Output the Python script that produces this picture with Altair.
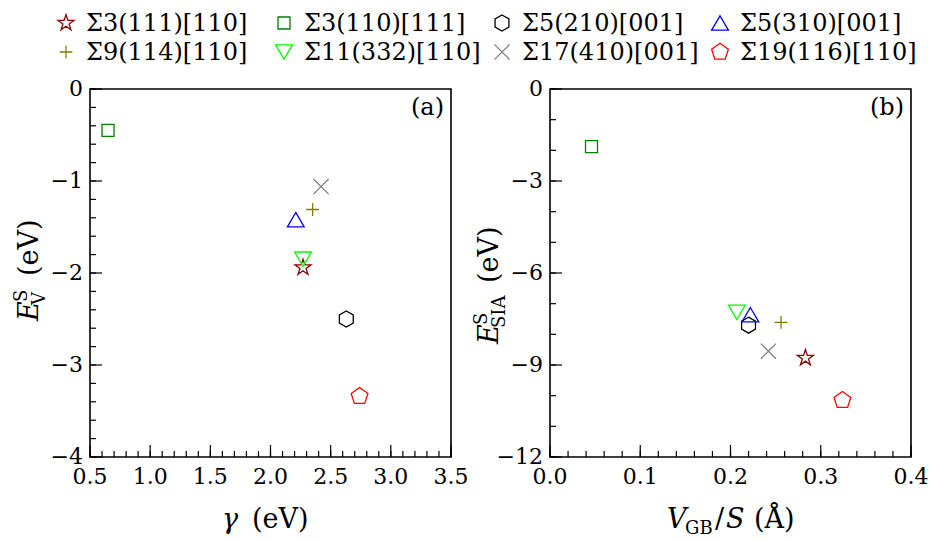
import altair as alt
import pandas as pd

# ---------------- data ----------------
names = ["Σ3(111)[110]", "Σ3(110)[111]", "Σ5(210)[001]", "Σ5(310)[001]",
         "Σ9(114)[110]", "Σ11(332)[110]", "Σ17(410)[001]", "Σ19(116)[110]"]
colors = ["#8b0000", "#008000", "#000000", "#0000ff",
          "#808000", "#00ff00", "#808080", "#ff0000"]
gamma = [2.27, 0.65, 2.63, 2.21, 2.35, 2.27, 2.42, 2.74]          # eV
ev_s = [-1.94, -0.45, -2.50, -1.42, -1.31, -1.85, -1.06, -3.34]   # E_V^S (eV)
vgb_s = [0.283, 0.046, 0.220, 0.222, 0.256, 0.207, 0.242, 0.324]  # V_GB/S (Å)
esia_s = [-8.77, -1.88, -7.70, -7.36, -7.61, -7.28, -8.55, -10.15]  # E_SIA^S (eV)
leg_col = [0, 1, 2, 3, 0, 1, 2, 3]
leg_row = [0, 0, 0, 0, 1, 1, 1, 1]

# axis tick values
a_xticks = [0.5, 1.0, 1.5, 2.0, 2.5, 3.0, 3.5]
a_yticks = [0, -1, -2, -3, -4]
b_xticks = [0.0, 0.1, 0.2, 0.3, 0.4]
b_yticks = [0, -3, -6, -9, -12]
a_xminor = [round(0.5 + 0.1 * i, 2) for i in range(31)]
a_yminor = [round(-0.2 * i, 2) for i in range(21)]
b_xminor = [round(0.02 * i, 3) for i in range(21)]
b_yminor = [float(-i) for i in range(13)]

# marker shapes (custom symbol paths, styling only)
shapes = [
    "M0,-1.05L0.2357,-0.3244L0.9986,-0.3245L0.3814,0.1239L0.6172,0.8495L0,0.401L-0.6172,0.8495L-0.3814,0.1239L-0.9986,-0.3245L-0.2357,-0.3244Z",
    "M-0.75,-0.75L0.75,-0.75L0.75,0.75L-0.75,0.75Z",
    "M0,-1L0.866,-0.5L0.866,0.5L0,1L-0.866,0.5L-0.866,-0.5Z",
    "M0,-0.9L1.05,0.9L-1.05,0.9Z",
    "M-0.8,0L0.8,0M0,-0.8L0,0.8",
    "M0,0.9L1.05,-0.9L-1.05,-0.9Z",
    "M-0.95,-0.95L0.95,0.95M-0.95,0.95L0.95,-0.95",
    "M0,-1.1L1.046,-0.34L0.647,0.89L-0.647,0.89L-1.046,-0.34Z",
]

df = pd.DataFrame({"name": names, "gamma": gamma, "ev": ev_s,
                   "vgb": vgb_s, "esia": esia_s,
                   "col": leg_col, "row": leg_row})

FONT = "DejaVu Serif"
W, H = 361, 368
GAP = 99
MAJ, MIN = 12, 6
TS = 27  # title font size
LS = 22  # tick label font size

color_scale = alt.Scale(domain=names, range=colors)
shape_scale = alt.Scale(domain=names, range=shapes)


def text_piece(text, x, y, size=TS, angle=0, dx=0, dy=0, italic=False, align="left"):
    return alt.Chart(pd.DataFrame({"t": [text]})).mark_text(
        font=FONT, fontSize=size, angle=angle, dx=dx, dy=dy, align=align,
        baseline="alphabetic", color="black",
        fontStyle="italic" if italic else "normal").encode(
        x=alt.value(x), y=alt.value(y), text="t:N")


def panel(xf, yf, xdom, ydom, xt, yt, xmin, ymin, xfmt, label, titles):
    xs = alt.Scale(domain=xdom, nice=False, zero=False)
    ys = alt.Scale(domain=ydom, nice=False, zero=False)
    pts = alt.Chart(df).mark_point(filled=False, size=256, strokeWidth=1.3, opacity=1).encode(
        x=alt.X(f"{xf}:Q", scale=xs, axis=None),
        y=alt.Y(f"{yf}:Q", scale=ys, axis=None),
        color=alt.Color("name:N", scale=color_scale, legend=None),
        shape=alt.Shape("name:N", scale=shape_scale, legend=None),
    )
    layers = [pts]
    # inward ticks
    for vals, ln in ((xt, MAJ), (xmin, MIN)):
        layers.append(alt.Chart(pd.DataFrame({"xv": vals})).mark_rule(
            color="black", strokeWidth=1.2).encode(
            x=alt.X("xv:Q", scale=xs, axis=None),
            y=alt.value(H), y2=alt.value(H - ln)))
    for vals, ln in ((yt, MAJ), (ymin, MIN)):
        layers.append(alt.Chart(pd.DataFrame({"yv": vals})).mark_rule(
            color="black", strokeWidth=1.2).encode(
            y=alt.Y("yv:Q", scale=ys, axis=None),
            x=alt.value(0), x2=alt.value(ln)))
    # tick labels
    layers.append(alt.Chart(pd.DataFrame({"xv": xt})).mark_text(
        font=FONT, fontSize=LS, baseline="top", align="center", color="black").encode(
        x=alt.X("xv:Q", scale=xs, axis=None), y=alt.value(H + 10),
        text=alt.Text("xv:Q", format=xfmt)))
    layers.append(alt.Chart(pd.DataFrame({"yv": yt})).mark_text(
        font=FONT, fontSize=LS, baseline="middle", align="right", color="black").encode(
        y=alt.Y("yv:Q", scale=ys, axis=None), x=alt.value(-7),
        text=alt.Text("yv:Q", format="d")))
    layers.append(text_piece(label, W - 7, 26, size=24, align="right"))
    layers += titles
    return alt.layer(*layers).properties(
        width=W, height=H, view=alt.ViewBackground(stroke="black", strokeWidth=1.6))


YB = -52  # baseline of rotated y titles (relative to plot left)
titles_a = [
    text_piece("E", YB, 232, angle=270, italic=True),
    text_piece("S", YB, 232, size=18, angle=270, dx=19, dy=-11),
    text_piece("V", YB, 232, size=18, angle=270, dx=16, dy=7),
    text_piece("(eV)", YB, 232, angle=270, dx=45),
    text_piece("γ", 132, H + 71, italic=True),
    text_piece("(eV)", 132, H + 71, dx=30),
]
titles_b = [
    text_piece("E", YB, 255, angle=270, italic=True),
    text_piece("S", YB, 255, size=18, angle=270, dx=19, dy=-11),
    text_piece("SIA", YB, 255, size=18, angle=270, dx=16, dy=7),
    text_piece("(eV)", YB, 255, angle=270, dx=61),
    text_piece("V", 117, H + 71, italic=True),
    text_piece("GB", 117, H + 71, size=18, dx=18, dy=6),
    text_piece("/", 117, H + 71, dx=48),
    text_piece("S", 117, H + 71, dx=59, italic=True),
    text_piece("(Å)", 117, H + 71, dx=87),
]

pa = panel("gamma", "ev", [0.5, 3.5], [-4, 0], a_xticks, a_yticks,
           a_xminor, a_yminor, ".1f", "(a)", titles_a)
pb = panel("vgb", "esia", [0.0, 0.4], [-12, 0], b_xticks, b_yticks,
           b_xminor, b_yminor, ".1f", "(b)", titles_b)

# ---- legend drawn as its own small chart above the panels ----
LW = 2 * W + GAP
lx = alt.Scale(domain=[0, 3], range=[-24, 630])
ly = alt.Scale(domain=[0, 1], range=[5, 34])
leg_pts = alt.Chart(df).mark_point(filled=False, size=256, strokeWidth=1.3, opacity=1).encode(
    x=alt.X("col:Q", scale=lx, axis=None),
    y=alt.Y("row:Q", scale=ly, axis=None),
    color=alt.Color("name:N", scale=color_scale, legend=None),
    shape=alt.Shape("name:N", scale=shape_scale, legend=None),
)
leg_txt = alt.Chart(df).mark_text(font=FONT, fontSize=24, align="left", baseline="middle",
                                  dx=20, dy=1, color="black").encode(
    x=alt.X("col:Q", scale=lx, axis=None),
    y=alt.Y("row:Q", scale=ly, axis=None),
    text="name:N",
)
leg = alt.layer(leg_pts, leg_txt).properties(
    width=LW, height=50, view=alt.ViewBackground(strokeOpacity=0))

chart = alt.vconcat(
    leg,
    alt.hconcat(pa, pb, spacing=GAP, bounds="flush"),
    spacing=21, bounds="flush",
).properties(
    padding={"left": 4, "top": 4, "right": 0, "bottom": 0}
)

chart.save("out.html", embed_options={"renderer": "svg", "actions": False})
